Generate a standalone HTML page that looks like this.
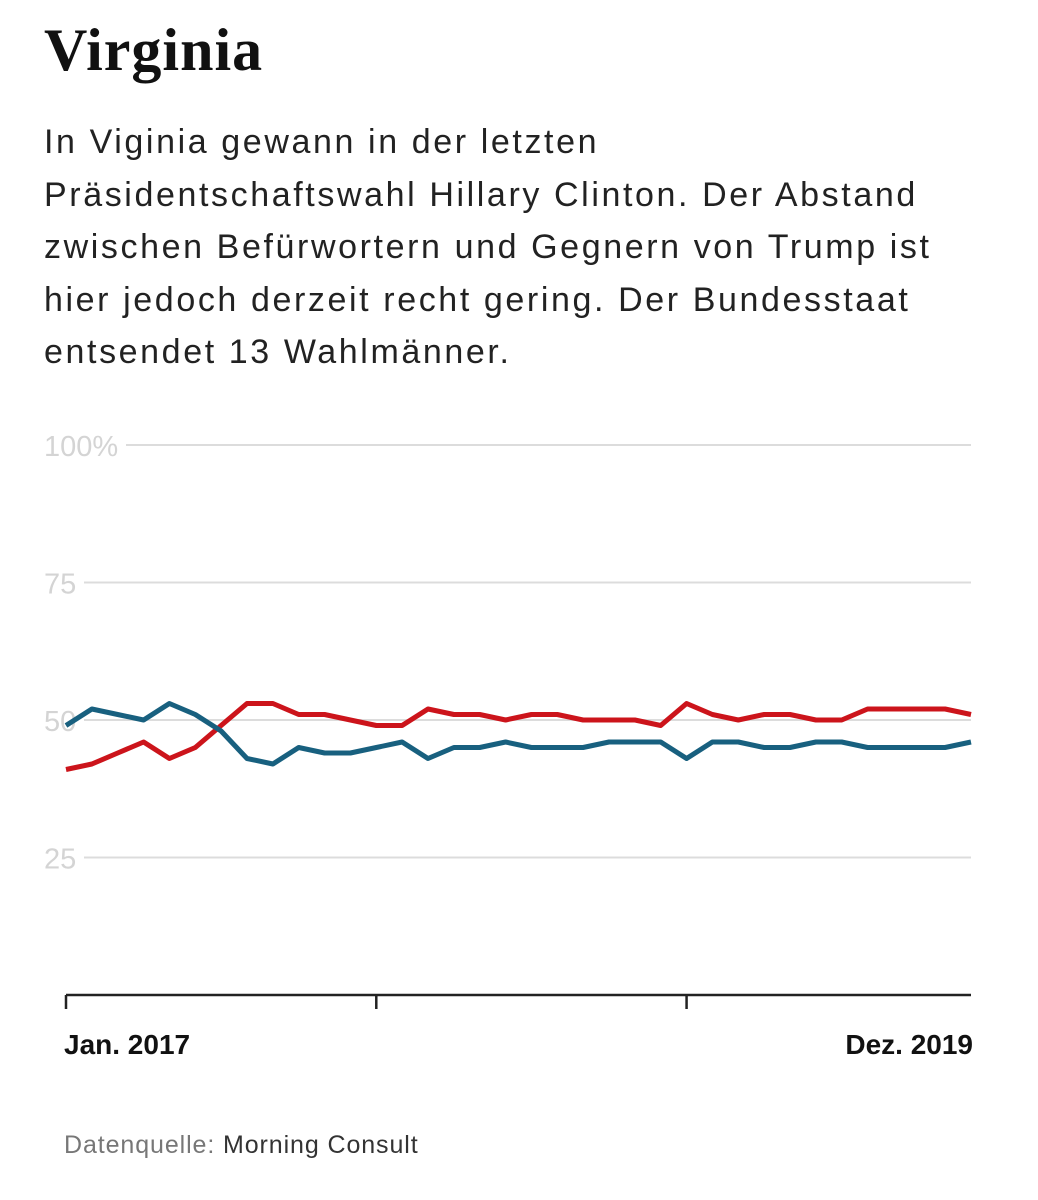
<!DOCTYPE html>
<html><head><meta charset="utf-8">
<style>
body{margin:0;background:#fff;width:1038px;height:1200px;overflow:hidden;font-family:"Liberation Sans",sans-serif;}
#title{position:absolute;left:44px;top:16px;font-family:"Liberation Serif",serif;font-weight:bold;font-size:60px;color:#111;margin:0;letter-spacing:1px}
#desc{position:absolute;left:44px;top:116px;width:990px;font-size:34px;line-height:52.5px;color:#222;margin:0;letter-spacing:2.6px;white-space:nowrap}
#src{position:absolute;left:64px;top:1131px;font-size:25px;color:#333;letter-spacing:0.9px}
#src span{color:#777}
svg{position:absolute;left:0;top:0}
</style></head><body>
<h1 id="title">Virginia</h1>
<p id="desc">In Viginia gewann in der letzten<br>Präsidentschaftswahl Hillary Clinton. Der Abstand<br>zwischen Befürwortern und Gegnern von Trump ist<br>hier jedoch derzeit recht gering. Der Bundesstaat<br>entsendet 13 Wahlmänner.</p>
<svg id="chart" width="1038" height="1200"></svg>
<div id="src"><span>Datenquelle:</span> Morning Consult</div>
<script>
const yTicks=[25,50,75,100];
const yTickLabels=["25","50","75","100%"];
const xLabels=["Jan. 2017","Dez. 2019"];
const disapprove=[41,42,44,46,43,45,49,53,53,51,51,50,49,49,52,51,51,50,51,51,50,50,50,49,53,51,50,51,51,50,50,52,52,52,52,51];
const approve=[49,52,51,50,53,51,48,43,42,45,44,44,45,46,43,45,45,46,45,45,45,46,46,46,43,46,46,45,45,46,46,45,45,45,45,46];
const NS="http://www.w3.org/2000/svg";
const svg=document.getElementById('chart');
const x0=66,x1=971,yZero=995,pxPerUnit=5.5;
const n=disapprove.length;
function xs(i){return x0+(x1-x0)*i/(n-1);}
function ys(v){return yZero-v*pxPerUnit;}
function mk(t,a){const e=document.createElementNS(NS,t);for(const k in a)e.setAttribute(k,a[k]);svg.appendChild(e);return e;}
yTicks.forEach((t,i)=>{
  const y=ys(t);
  const l=mk('line',{x1:(t===100?126:84),x2:x1,y1:y,y2:y,stroke:'#dcdcdc','stroke-width':2});
  
  
  const tx=mk('text',{x:44,y:y+11,'font-size':29,fill:'#d4d4d4','font-family':'Liberation Sans, sans-serif'});
  tx.textContent=yTickLabels[i];
  
  
});
const ax=mk('line',{x1:x0,x2:x1,y1:yZero,y2:yZero,stroke:'#222','stroke-width':2.5});


[0,12,24].forEach(i=>{
  const t=mk('line',{x1:xs(i),x2:xs(i),y1:yZero,y2:yZero+14,stroke:'#222','stroke-width':2.5});
  
  
});
const l1=mk('text',{x:x0-2,y:1054,'font-size':28,'font-weight':'bold',fill:'#111','font-family':'Liberation Sans, sans-serif'});
l1.textContent=xLabels[0];


const l2=mk('text',{x:x1+2,y:1054,'font-size':28,'font-weight':'bold',fill:'#111','text-anchor':'end','font-family':'Liberation Sans, sans-serif'});
l2.textContent=xLabels[1];


function line(arr,color,name){
  const d=arr.map((v,i)=>(i?'L':'M')+xs(i).toFixed(1)+','+ys(v).toFixed(1)).join('');
  const p=mk('path',{d:d,fill:'none',stroke:color,'stroke-width':5,'stroke-linejoin':'round'});
  
  
}
line(disapprove,'#cc141b','disapprove-line');
line(approve,'#18607f','approve-line');
</script>
</body></html>
